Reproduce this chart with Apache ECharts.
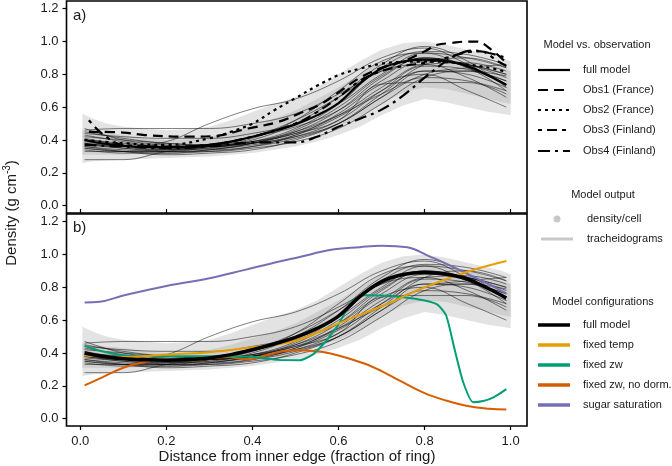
<!DOCTYPE html>
<html>
<head>
<meta charset="utf-8">
<script src="https://cdn.jsdelivr.net/npm/echarts@6/dist/echarts.min.js"></script>
<style>
html,body{margin:0;padding:0;background:#fff;}
#chart{width:672px;height:466px;}
</style>
</head>
<body>
<div id="chart"></div>
<script>
// tick labels
var xTicks = [0, 0.2, 0.4, 0.6, 0.8, 1.0];
var yTicks = [0, 0.2, 0.4, 0.6, 0.8, 1.0, 1.2];

// grey cloud of density/cell points (envelope)
var cloudX    = [0.005, 0.03, 0.06, 0.1, 0.15, 0.2, 0.25, 0.3, 0.35, 0.4, 0.45, 0.5, 0.55, 0.6, 0.65, 0.7, 0.75, 0.8, 0.85, 0.9, 0.95, 0.98, 1.0];
var cloudLo   = [0.26, 0.27, 0.275, 0.28, 0.285, 0.29, 0.295, 0.30, 0.31, 0.32, 0.34, 0.36, 0.39, 0.43, 0.48, 0.55, 0.61, 0.65, 0.63, 0.60, 0.57, 0.56, 0.55];
var cloudHi   = [0.56, 0.53, 0.50, 0.48, 0.47, 0.46, 0.465, 0.48, 0.52, 0.57, 0.62, 0.66, 0.72, 0.80, 0.88, 0.95, 0.99, 1.00, 0.98, 0.95, 0.92, 0.90, 0.88];
var cloudInLo = [0.31, 0.31, 0.31, 0.31, 0.315, 0.32, 0.325, 0.33, 0.34, 0.35, 0.37, 0.40, 0.44, 0.48, 0.54, 0.62, 0.69, 0.72, 0.71, 0.68, 0.65, 0.63, 0.62];
var cloudInHi = [0.46, 0.45, 0.44, 0.43, 0.41, 0.40, 0.405, 0.42, 0.45, 0.49, 0.53, 0.58, 0.65, 0.72, 0.80, 0.88, 0.93, 0.94, 0.93, 0.90, 0.86, 0.84, 0.82];

// tracheidograms
var trachX = [0.01, 0.1, 0.2, 0.3, 0.4, 0.5, 0.6, 0.7, 0.8, 0.9, 0.99];
var trach01 = [0.47, 0.40, 0.37, 0.36, 0.38, 0.45, 0.58, 0.78, 0.90, 0.86, 0.78];
var trach02 = [0.44, 0.42, 0.41, 0.41, 0.44, 0.50, 0.62, 0.80, 0.93, 0.90, 0.84];
var trach03 = [0.42, 0.40, 0.38, 0.37, 0.39, 0.44, 0.55, 0.72, 0.86, 0.87, 0.82];
var trach04 = [0.40, 0.38, 0.36, 0.35, 0.37, 0.42, 0.52, 0.70, 0.85, 0.83, 0.76];
var trach05 = [0.39, 0.36, 0.34, 0.34, 0.36, 0.41, 0.50, 0.66, 0.82, 0.80, 0.72];
var trach06 = [0.38, 0.35, 0.34, 0.35, 0.40, 0.50, 0.66, 0.86, 0.97, 0.88, 0.72];
var trach07 = [0.37, 0.35, 0.33, 0.33, 0.35, 0.39, 0.47, 0.62, 0.78, 0.82, 0.79];
var trach08 = [0.36, 0.34, 0.33, 0.34, 0.38, 0.46, 0.60, 0.79, 0.90, 0.84, 0.70];
var trach09 = [0.35, 0.33, 0.32, 0.33, 0.36, 0.43, 0.56, 0.74, 0.80, 0.70, 0.60];
var trach10 = [0.34, 0.32, 0.32, 0.34, 0.38, 0.44, 0.52, 0.74, 0.75, 0.75, 0.68];
var trach11 = [0.33, 0.33, 0.34, 0.37, 0.42, 0.48, 0.58, 0.76, 0.88, 0.86, 0.80];
var trach12 = [0.28, 0.28, 0.33, 0.36, 0.38, 0.42, 0.50, 0.66, 0.80, 0.84, 0.86];
var trach13 = [0.46, 0.47, 0.47, 0.47, 0.50, 0.56, 0.68, 0.82, 0.90, 0.86, 0.80];
var trach14 = [0.38, 0.36, 0.39, 0.50, 0.59, 0.65, 0.76, 0.90, 0.96, 0.86, 0.74];
var trach15 = [0.45, 0.41, 0.38, 0.37, 0.38, 0.43, 0.54, 0.70, 0.82, 0.82, 0.74];
var trach16 = [0.36, 0.33, 0.31, 0.32, 0.34, 0.40, 0.50, 0.68, 0.86, 0.90, 0.84];
var trach17 = [0.43, 0.39, 0.36, 0.36, 0.39, 0.47, 0.62, 0.84, 0.94, 0.92, 0.86];
var trach18 = [0.41, 0.37, 0.35, 0.36, 0.41, 0.52, 0.70, 0.88, 0.93, 0.84, 0.76];
var trach19 = [0.38, 0.36, 0.35, 0.36, 0.39, 0.45, 0.55, 0.68, 0.78, 0.76, 0.70];
var trach20 = [0.35, 0.33, 0.33, 0.36, 0.42, 0.52, 0.66, 0.82, 0.86, 0.78, 0.66];
var trachAll = [trach01, trach02, trach03, trach04, trach05, trach06, trach07, trach08, trach09, trach10,
                trach11, trach12, trach13, trach14, trach15, trach16, trach17, trach18, trach19, trach20];

// full model
var fullX = [0.01, 0.05, 0.1, 0.15, 0.2, 0.25, 0.3, 0.35, 0.4, 0.45, 0.5, 0.55, 0.6, 0.65, 0.7, 0.75, 0.8, 0.85, 0.9, 0.95, 0.99];
var fullY = [0.40, 0.38, 0.365, 0.358, 0.356, 0.36, 0.37, 0.39, 0.42, 0.455, 0.495, 0.55, 0.625, 0.745, 0.835, 0.878, 0.89, 0.88, 0.85, 0.79, 0.735];

// observations (panel a)
var obs1X = [0.02, 0.1, 0.15, 0.25, 0.31, 0.39, 0.46, 0.51, 0.56, 0.6, 0.65, 0.7, 0.75, 0.8, 0.83, 0.86, 0.9, 0.92, 0.96, 0.99];
var obs1Y = [0.45, 0.445, 0.43, 0.42, 0.424, 0.47, 0.51, 0.563, 0.62, 0.69, 0.78, 0.84, 0.88, 0.94, 0.98, 0.99, 1.0, 1.0, 0.94, 0.87];
var obs2X = [0.01, 0.1, 0.2, 0.3, 0.35, 0.4, 0.45, 0.5, 0.55, 0.6, 0.65, 0.7, 0.75, 0.8, 0.85, 0.9, 0.95, 0.99];
var obs2Y = [0.40, 0.38, 0.37, 0.41, 0.45, 0.50, 0.58, 0.655, 0.73, 0.795, 0.835, 0.865, 0.876, 0.878, 0.875, 0.86, 0.84, 0.815];
var obs3X = [0.02, 0.055, 0.1, 0.2, 0.3, 0.4, 0.5, 0.55, 0.6, 0.65, 0.7, 0.75, 0.8, 0.85, 0.9, 0.93, 0.97, 0.99];
var obs3Y = [0.52, 0.43, 0.37, 0.36, 0.37, 0.42, 0.50, 0.57, 0.66, 0.76, 0.82, 0.85, 0.87, 0.90, 0.935, 0.94, 0.88, 0.85];
var obs4X = [0.01, 0.1, 0.2, 0.3, 0.4, 0.5, 0.55, 0.6, 0.65, 0.7, 0.75, 0.8, 0.85, 0.88, 0.91, 0.95, 0.99];
var obs4Y = [0.37, 0.36, 0.35, 0.36, 0.385, 0.385, 0.42, 0.48, 0.53, 0.585, 0.67, 0.78, 0.88, 0.925, 0.945, 0.93, 0.90];

// model configurations (panel b)
var tempX = [0.01, 0.1, 0.2, 0.3, 0.4, 0.5, 0.6, 0.7, 0.8, 0.9, 0.99];
var tempY = [0.385, 0.375, 0.39, 0.405, 0.435, 0.475, 0.58, 0.685, 0.80, 0.895, 0.96];
var zwX = [0.01, 0.05, 0.1, 0.2, 0.3, 0.4, 0.46, 0.51, 0.54, 0.57, 0.6, 0.63, 0.66, 0.7, 0.75, 0.8, 0.83, 0.85, 0.87, 0.89, 0.913, 0.936, 0.96, 0.99];
var zwY = [0.443, 0.41, 0.385, 0.38, 0.38, 0.376, 0.358, 0.356, 0.39, 0.47, 0.575, 0.71, 0.752, 0.75, 0.74, 0.72, 0.695, 0.63, 0.42, 0.22, 0.10, 0.107, 0.13, 0.18];
var zwNdX = [0.01, 0.05, 0.1, 0.15, 0.2, 0.26, 0.34, 0.39, 0.43, 0.47, 0.51, 0.56, 0.6, 0.66, 0.7, 0.74, 0.8, 0.85, 0.9, 0.95, 0.99];
var zwNdY = [0.203, 0.25, 0.31, 0.345, 0.36, 0.356, 0.376, 0.36, 0.385, 0.41, 0.417, 0.407, 0.385, 0.336, 0.29, 0.234, 0.155, 0.11, 0.077, 0.06, 0.055];
var sugarX = [0.01, 0.045, 0.1, 0.2, 0.3, 0.38, 0.46, 0.51, 0.58, 0.65, 0.7, 0.76, 0.81, 0.85, 0.89, 0.94, 0.99];
var sugarY = [0.708, 0.712, 0.75, 0.808, 0.855, 0.905, 0.956, 0.985, 1.027, 1.045, 1.054, 1.044, 0.99, 0.945, 0.895, 0.83, 0.763];

var FONT = '"Liberation Sans", Arial, sans-serif';
var TXT = '#1a1a1a';
var DASH1 = [10, 6], DASH2 = [3, 4], DASH3 = [4, 5, 10, 5], DASH4 = [12, 5, 3, 5];

function pairs(x, y) {
    return x.map(function (v, i) { return [v, y[i]]; });
}
function line(k, data, color, width, dash, opacity, smooth) {
    return {
        type: 'line', xAxisIndex: k, yAxisIndex: k, data: data,
        showSymbol: false, symbol: 'none', smooth: smooth, silent: true,
        lineStyle: { color: color, width: width, type: dash || 'solid', opacity: opacity }
    };
}
// grey envelope as a polygon, placed through the axis scales
function band(k, lo, hi, color) {
    return {
        type: 'custom', xAxisIndex: k, yAxisIndex: k, silent: true,
        data: pairs(cloudX, hi),
        renderItem: function (params, api) {
            if (params.dataIndex !== 0) return null;
            var pts = [];
            cloudX.forEach(function (x, i) { pts.push(api.coord([x, hi[i]])); });
            for (var i = cloudX.length - 1; i >= 0; i--) pts.push(api.coord([cloudX[i], lo[i]]));
            return { type: 'polygon', shape: { points: pts }, style: { fill: color } };
        }
    };
}

var series = [];
[0, 1].forEach(function (k) {
    series.push(band(k, cloudLo, cloudHi, '#e3e3e3'));
    series.push(band(k, cloudInLo, cloudInHi, '#cfcfcf'));
    trachAll.forEach(function (t) {
        series.push(line(k, pairs(trachX, t), '#000', 0.6, 'solid', 0.85, 0.4));
    });
});
// panel a
series.push(line(0, pairs(obs4X, obs4Y), '#000', 2.2, DASH4, 1, 0.4));
series.push(line(0, pairs(obs3X, obs3Y), '#000', 2.2, DASH3, 1, 0.4));
series.push(line(0, pairs(obs2X, obs2Y), '#000', 2.2, DASH2, 1, 0.4));
series.push(line(0, pairs(obs1X, obs1Y), '#000', 2.2, DASH1, 1, 0.4));
series.push(line(0, pairs(fullX, fullY), '#000', 2.2, 'solid', 1, 0.4));
// panel b
series.push(line(1, pairs(sugarX, sugarY), '#7570B3', 2, 'solid', 1, 0.4));
series.push(line(1, pairs(zwNdX, zwNdY), '#D55E00', 2, 'solid', 1, 0.4));
series.push(line(1, pairs(zwX, zwY), '#009E73', 2, 'solid', 1, 0.2));
series.push(line(1, pairs(tempX, tempY), '#E69F00', 2, 'solid', 1, 0.4));
series.push(line(1, pairs(fullX, fullY), '#000', 3.5, 'solid', 1, 0.4));

function xAxis(k) {
    return {
        type: 'value', gridIndex: k, min: -0.032, max: 1.038,
        axisLine: { show: false, onZero: false }, splitLine: { show: false },
        axisTick: { show: true, inside: k === 0, length: 4, customValues: xTicks, lineStyle: { color: '#000', width: 1.2 } },
        axisLabel: { show: k === 1, customValues: xTicks, margin: 9, fontSize: 13, fontFamily: FONT, color: TXT,
            formatter: function (v) { return v.toFixed(1); } }
    };
}
function yAxis(k) {
    return {
        type: 'value', gridIndex: k, min: -0.045, max: 1.247,
        axisLine: { show: false, onZero: false }, splitLine: { show: false },
        axisTick: { show: true, length: 4, customValues: yTicks, lineStyle: { color: '#000', width: 1.2 } },
        axisLabel: { customValues: yTicks, margin: 8, fontSize: 13, fontFamily: FONT, color: TXT,
            formatter: function (v) { return v.toFixed(1); } }
    };
}

function gText(x, y, text, size, align) {
    return { type: 'text', x: x, y: y, silent: true,
        style: { text: text, fontSize: size, fontFamily: FONT, fill: TXT, align: align || 'left', verticalAlign: 'middle' } };
}
function gLine(y, color, width, dash) {
    return { type: 'line', silent: true, shape: { x1: 538, y1: y, x2: 570, y2: y },
        style: { stroke: color, lineWidth: width, lineDash: dash || null } };
}

var graphic = [
    gText(73, 16, 'a)', 15),
    gText(73, 228, 'b)', 15),
    gText(297, 457, 'Distance from inner edge (fraction of ring)', 15, 'center'),
    { type: 'text', x: 12, y: 213, rotation: Math.PI / 2, silent: true,
      style: { text: '{a|Density (g cm}{s|-3}{a|)}', fontFamily: FONT, fill: TXT, align: 'center', verticalAlign: 'middle',
        rich: { a: { fontSize: 15, lineHeight: 20, fontFamily: FONT, fill: TXT },
                s: { fontSize: 10, lineHeight: 10, verticalAlign: 'top', fontFamily: FONT, fill: TXT } } } },
    // legend: model vs observation
    gText(597, 45, 'Model vs. observation', 11, 'center'),
    gLine(70, '#000', 2.2), gText(583, 70, 'full model', 11),
    gLine(90, '#000', 2.2, DASH1), gText(583, 90, 'Obs1 (France)', 11),
    gLine(110, '#000', 2.2, DASH2), gText(583, 110, 'Obs2 (France)', 11),
    gLine(130, '#000', 2.2, DASH3), gText(583, 130, 'Obs3 (Finland)', 11),
    gLine(151, '#000', 2.2, DASH4), gText(583, 151, 'Obs4 (Finland)', 11),
    // legend: model output
    gText(603, 195, 'Model output', 11, 'center'),
    { type: 'circle', silent: true, shape: { cx: 557, cy: 219, r: 3.5 }, style: { fill: '#c8c8c8' } },
    gText(587, 219, 'density/cell', 11),
    { type: 'line', silent: true, shape: { x1: 541, y1: 239, x2: 573, y2: 239 }, style: { stroke: '#c8c8c8', lineWidth: 3 } },
    gText(587, 239, 'tracheidograms', 11),
    // legend: model configurations
    gText(603, 302, 'Model configurations', 11, 'center'),
    gLine(325, '#000', 3.5), gText(583, 325, 'full model', 11),
    gLine(345, '#E69F00', 3.5), gText(583, 345, 'fixed temp', 11),
    gLine(365, '#009E73', 3.5), gText(583, 365, 'fixed zw', 11),
    gLine(385, '#D55E00', 3.5), gText(583, 385, 'fixed zw, no dorm.', 11),
    gLine(405, '#7570B3', 3.5), gText(583, 405, 'sugar saturation', 11)
];

var chart = echarts.init(document.getElementById('chart'), null, { renderer: 'canvas' });
chart.setOption({
    animation: false,
    backgroundColor: '#fff',
    grid: [
        { left: 66.5, top: 1, right: 145, height: 212, show: true, borderColor: '#000', borderWidth: 1.6 },
        { left: 66.5, top: 214, right: 145, height: 212, show: true, borderColor: '#000', borderWidth: 1.6 }
    ],
    xAxis: [xAxis(0), xAxis(1)],
    yAxis: [yAxis(0), yAxis(1)],
    series: series,
    graphic: graphic
});
</script>
</body>
</html>
